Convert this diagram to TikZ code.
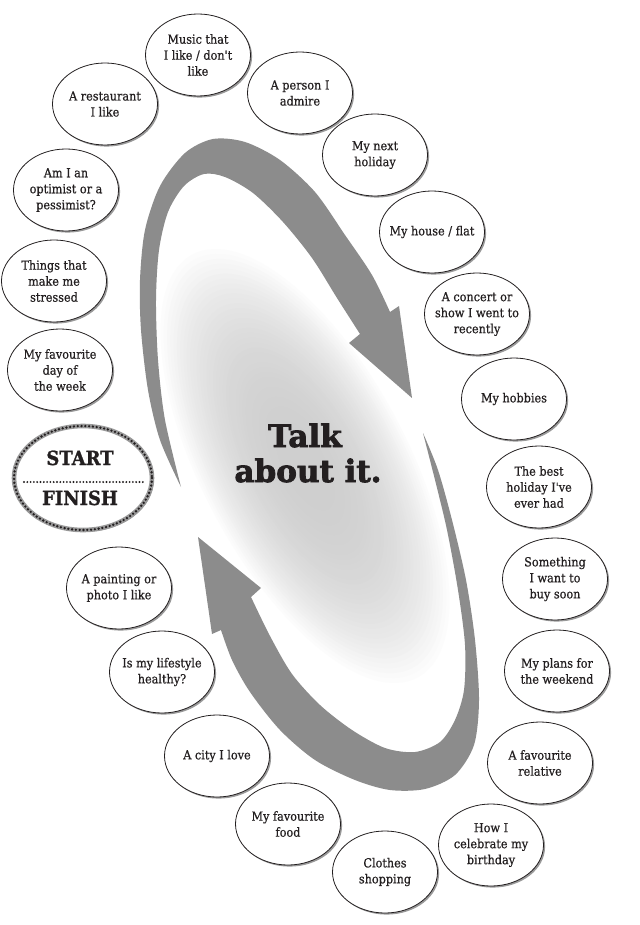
\documentclass[tikz,border=0pt]{standalone}
\usepackage{fontspec}
\setmainfont{DejaVu Serif}[FakeStretch=0.9]
\newfontfamily\topicfont{DejaVu Serif}[FakeStretch=0.9, FakeBold=0.6]
\newfontfamily\heavy{DejaVu Serif}[BoldFeatures={FakeBold=2.5}]
\newfontfamily\sfheavy{DejaVu Serif}[FakeStretch=0.92, BoldFeatures={FakeBold=1.2}]
\usetikzlibrary{shapes.geometric,shadows}
\definecolor{arrowgray}{HTML}{8C8C8C}
\definecolor{ink}{HTML}{231F20}
\begin{document}
\begin{tikzpicture}[x=1pt,y=-1pt,
  topic/.style={ellipse, draw=ink, line width=0.8pt, fill=white,
    minimum width=105pt, minimum height=82pt, inner xsep=-10pt, inner ysep=0pt,
    align=center, font=\topicfont\fontsize{12.5}{16}\selectfont, text=ink,
    drop shadow={shadow xshift=1.6pt, shadow yshift=-1.6pt, fill=black!40, opacity=1}},
  ring/.style={ellipse, fill=white, minimum width=138pt, minimum height=104pt, inner sep=0pt,
    drop shadow={shadow xshift=1.8pt, shadow yshift=-1.8pt, fill=black!40, opacity=1}},
  band/.style={draw=black!40, line width=4.6pt},
  dots/.style={draw=ink, line width=2.6pt, line cap=round, dash pattern=on 0pt off 3.8pt},
  sftext/.style={font=\sfheavy\bfseries\fontsize{19.5}{20}\selectfont, text=ink, anchor=base, inner sep=0pt},
  titletext/.style={font=\heavy\bfseries\fontsize{31}{35}\selectfont, text=ink, anchor=base, inner sep=0pt},
  bigarrow/.style={fill=arrowgray}]
\useasboundingbox (0,0) rectangle (639,925);
\fill[white] (0,0) rectangle (639,925);
% soft gradient
\begin{scope}[shift={(305,466)}, rotate=-62]
\foreach \i in {0,...,44}{
  \pgfmathsetmacro\s{1-\i/45}
  \pgfmathsetmacro\c{19*(1-\s^2.5)}
  \fill[black!\c] (0,0) ellipse ({245*\s} and {105*\s});
}
\end{scope}
% upper arrow
\fill[bigarrow] plot[smooth] coordinates {(181,487) (160,440) (148,390) (141,330) (140,280) (145,230) (160,186) (185,153) (213,139) (245,142) (280,160) (315,192) (345,235) (372,275) (390,312)}
  -- (399,306) -- (412,398) -- (349,343) --
  plot[smooth] coordinates {(360,334) (337,298) (312,258) (283,222) (253,193) (225,177) (204,174) (184,186) (168,212) (159,250) (156,300) (158,360) (165,420) (181,487)} -- cycle;
% lower arrow
\fill[bigarrow] plot[smooth] coordinates {(423,433) (438,470) (452,520) (466,580) (475,640) (479,700) (474,745) (455,775) (425,789) (390,790) (355,780) (315,760) (280,730) (250,692) (232,660) (221,630)}
  -- (212,634) -- (198,537) -- (261,588) --
  plot[smooth] coordinates {(251,597) (270,636) (292,674) (320,705) (352,730) (385,748) (415,752) (440,742) (455,720) (464,690) (465,645) (458,590) (447,530) (435,480) (423,433)} -- cycle;
% title
\node[titletext] (t1) at (305,447) {Talk};
\node[titletext] (t2) at (308,482) {about it.};
% start / finish
\node[ring] (sf) at (83,478) {};
\draw[band] (sf.center) ellipse (69 and 52);
\draw[dots] (sf.center) ellipse (69 and 52);
\coordinate (d1) at (24,482);
\coordinate (d2) at (143,482);
\draw[dots, line width=2.1pt, dash pattern=on 0pt off 3.3pt] (d1) -- (d2);
\node[sftext] (start) at (80,465) {START};
\node[sftext] (finish) at (80,505) {FINISH};
% topics
\node[topic] (music) at (198,55) {Music that\\I like / don't\\like};
\node[topic] (rest) at (105,104) {A restaurant\\I like};
\node[topic] (person) at (300,93) {A person I\\admire};
\node[topic] (nexthol) at (375,155) {My next\\holiday};
\node[topic] (optim) at (66,190) {Am I an\\optimist or a\\pessimist?};
\node[topic] (house) at (432,232) {My house / flat};
\node[topic] (stress) at (54,281) {Things that\\make me\\stressed};
\node[topic] (concert) at (477,314) {A concert or\\show I went to\\recently};
\node[topic] (favday) at (60,370) {My favourite\\day of\\the week};
\node[topic] (hobbies) at (514,399) {My hobbies};
\node[topic] (besthol) at (539,487) {The best\\holiday I've\\ever had};
\node[topic] (paint) at (119,588) {A painting or\\photo I like};
\node[topic] (buy) at (555,579) {Something\\I want to\\buy soon};
\node[topic] (life) at (162,672) {Is my lifestyle\\healthy?};
\node[topic] (plans) at (557,671) {My plans for\\the weekend};
\node[topic] (city) at (217,756) {A city I love};
\node[topic] (rel) at (540,763) {A favourite\\relative};
\node[topic] (food) at (288,824) {My favourite\\food};
\node[topic] (bday) at (491,845) {How I\\celebrate my\\birthday};
\node[topic] (clothes) at (385,872) {Clothes\\shopping};
\end{tikzpicture}
\end{document}
